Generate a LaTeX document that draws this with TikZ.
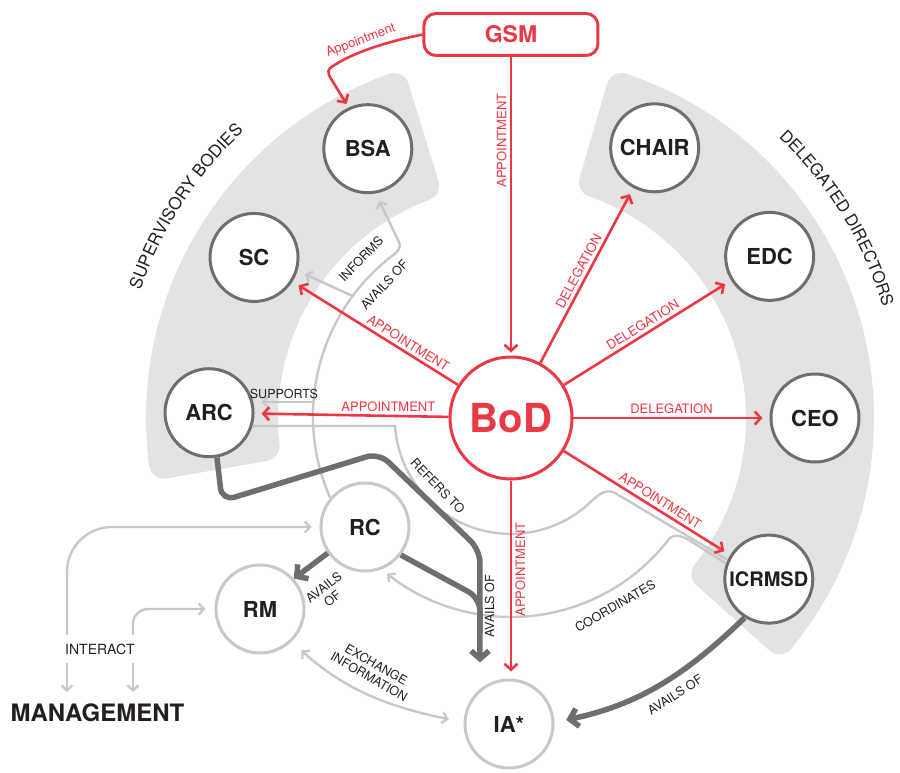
\documentclass[tikz,border=0pt]{standalone}
\usepackage{fontspec}
\setmainfont{TeX Gyre Heros}
\usepackage{tikz}
\usetikzlibrary{positioning, arrows.meta, decorations.text}

\definecolor{bodred}{RGB}{236,56,68}
\definecolor{ringgray}{RGB}{109,110,113}
\definecolor{bandgray}{RGB}{227,227,227}
\definecolor{softgray}{RGB}{200,200,200}
\definecolor{inkgray}{RGB}{35,31,32}

\tikzset{
    member/.style={circle, draw=ringgray, line width=3pt, fill=white, minimum size=88pt, inner sep=0pt, text=inkgray, font=\fontsize{22}{22}\selectfont\bfseries},
    softmember/.style={member, draw=softgray},
    redarrow/.style={bodred, line width=2.6pt, -{Straight Barb[length=6pt,width=13pt]}, shorten >=7pt},
    redlabel/.style={text=bodred, font=\fontsize{13}{14}\selectfont, inner sep=3pt},
    greylabel/.style={text=inkgray, font=\fontsize{12.5}{14}\selectfont, inner sep=2pt},
    softline/.style={softgray, line width=2.4pt},
    softarrow/.style={softline, -{Straight Barb[length=5pt,width=11pt]}},
    availsline/.style={ringgray, line width=5.5pt},
    availsarrow/.style={availsline, -{Straight Barb[length=8pt,width=18pt]}}
}

\begin{document}
\begin{tikzpicture}[x=1pt, y=1pt]
                \useasboundingbox (-511,-354) rectangle (389,418);

                \filldraw[bandgray, line width=30pt, line join=round] (109.5:350) arc[start angle=109.5, end angle=187.5, radius=350] -- (186.5:248) arc[start angle=186.5, end angle=110.5, radius=248] -- cycle;
                \filldraw[bandgray, line width=30pt, line join=round] (71.5:348) arc[start angle=71.5, end angle=-39.5, radius=348] -- (-38.6:250) arc[start angle=-38.6, end angle=70.6, radius=250] -- cycle;

                \path[decorate, decoration={text along path, text align=center, text color=inkgray, text={|\fontsize{17}{17}\selectfont|SUPERVISORY BODIES}}] (172:392) arc[start angle=172, end angle=122, radius=392];
                \path[decorate, decoration={text along path, text align=center, text color=inkgray, text={|\fontsize{16.5}{17}\selectfont|DELEGATED DIRECTORS}}] (61:388) arc[start angle=61, end angle=2, radius=388];

                \node [circle, draw=bodred, line width=3pt, fill=white, minimum size=122pt, text=bodred, font=\fontsize{40}{40}\selectfont\bfseries] (BoD) at (0,0) {BoD};
                \node [draw=bodred, line width=3pt, rounded corners=12pt, fill=white, minimum width=174pt, minimum height=42pt, text=bodred, font=\fontsize{23}{23}\selectfont\bfseries] (GSM) at (0,383.5) {GSM};

                \node [member] (BSA) at (118:305) {BSA};
                \node [member] (SC) at (148:303) {SC};
                \node [member] (ARC) at (179:302) {ARC};
                \node [member] (CHAIR) at (62:306) {CHAIR};
                \node [member] (EDC) at (32:305) {EDC};
                \node [member] (CEO) at (0:304) {CEO};
                \node [member, font=\fontsize{20}{20}\selectfont\bfseries] (ICRMSD) at (-32:304) {ICRMSD};

                \node [softmember] (RC) at (-146,-109) {RC};
                \node [softmember] (RM) at (-251,-191) {RM};
                \node [softmember] (IA) at (-2,-306) {IA*};

                \node [text=inkgray, font=\fontsize{24}{24}\selectfont\bfseries] (mgmt) at (-413.5,-294.5) {MANAGEMENT};
                \node [greylabel, font=\fontsize{14}{14}\selectfont, inner ysep=8pt] (interact) at (-411,-231) {INTERACT};

                % light connectors
                \draw[softarrow, shorten >=8pt] (RC.140) arc[start angle=203.8, end angle=127, radius=202] to[out=37, in=-60] (-112,176) -- (BSA.-80);
                \coordinate (informsfork) at (-158.5,122);
                \coordinate (supportsfork) at (-197.6,16);
                \draw[softarrow, shorten >=8pt] (informsfork) -- (SC.-17);
                \draw[softarrow, shorten >=7pt] (supportsfork) -- (supportsfork -| ARC.east) node[greylabel, midway, above] {SUPPORTS};
                \node [greylabel, rotate=46] (informs) at (-150,159) {INFORMS};
                \node [greylabel, rotate=47] (availsbsa) at (133.5:184) {AVAILS OF};

                \draw[softline] (ARC.-17) -- (-116,-8) arc[start angle=184, end angle=314, radius=116] to[out=44, in=152] (104,-75) -- (ICRMSD.155);
                \node [greylabel, rotate=-46] (refers) at (223:100) {REFERS TO};

                \draw[softarrow] (ICRMSD.160) -- (178,-122) to[out=152, in=50] (-37.5:199) arc[start angle=-37.5, end angle=-128.5, radius=199];
                \node [greylabel, rotate=30] (coord) at (-61:215) {COORDINATES};

                \draw[softline, {Straight Barb[length=5pt,width=11pt]}-{Straight Barb[length=5pt,width=11pt]}, shorten <=13pt, shorten >=15pt] (RM.-46) to[out=-42, in=168] (IA.178);
                \node [greylabel, rotate=-30, align=center] (exchange) at (241.3:288) {EXCHANGE\\INFORMATION};

                \coordinate (rcup) at ([xshift=-33pt]interact.north);
                \coordinate (rcdown) at ([xshift=-33pt]interact.south);
                \coordinate (rmup) at ([xshift=33pt]interact.north);
                \coordinate (rmdown) at ([xshift=33pt]interact.south);
                \draw[softarrow, rounded corners=45pt, shorten >=8pt] (rcup) |- (RC);
                \draw[softarrow, rounded corners=15pt, shorten >=9pt] (rmup) |- (RM);
                \draw[softarrow, shorten >=8pt] (rcdown) -- (rcdown |- mgmt.north);
                \draw[softarrow, shorten >=8pt] (rmdown) -- (rmdown |- mgmt.north);

                % dark connectors
                \draw[availsarrow, rounded corners=13pt] (ARC.-80) -- (-289,-83) -- (-132,-35) -- (-31,-132) -- ([xshift=-29pt, yshift=16pt]IA.north) node[greylabel, pos=0.5, rotate=90, anchor=north] {AVAILS OF};
                \draw[availsline, rounded corners=13pt] (RC.-38) -- (-31,-180) -- (-31,-215);
                \draw[availsarrow] (RC.215) -- (RM.42);
                \node [greylabel, rotate=38, align=center] (availsrm) at (-183,-175) {AVAILS\\OF};
                \draw[availsarrow, shorten >=12pt] (ICRMSD.238) to[out=224, in=12] (IA.2);
                \node [greylabel, rotate=33] (availsia) at (164,-277) {AVAILS OF};

                % red connectors
                \draw[redarrow, shorten >=3pt] (GSM) -- (BoD) node[redlabel, pos=0.28, rotate=90, anchor=south] {APPOINTMENT};
                \draw[redarrow, shorten >=4pt] (GSM.west) .. controls (-130,375) and (-160,364) .. (-178,352) node[redlabel, pos=0.55, sloped, above] {Appointment} .. controls (-184,349) and (-183,345) .. (-181,341) -- (BSA.115);
                \draw[redarrow] (BoD) -- (CHAIR) node[redlabel, pos=0.5, sloped, above] {DELEGATION};
                \draw[redarrow] (BoD) -- (EDC) node[redlabel, pos=0.5, sloped, above] {DELEGATION};
                \draw[redarrow] (BoD) -- (CEO) node[redlabel, pos=0.5, above] {DELEGATION};
                \draw[redarrow] (BoD) -- (ICRMSD) node[redlabel, pos=0.55, sloped, above] {APPOINTMENT};
                \draw[redarrow] (BoD) -- (SC) node[redlabel, pos=0.33, sloped, above] {APPOINTMENT};
                \draw[redarrow] (BoD) -- (ARC) node[redlabel, pos=0.31, above] {APPOINTMENT};
                \draw[redarrow] (BoD) -- (BoD |- IA.north) node[redlabel, pos=0.45, rotate=90, anchor=north] {APPOINTMENT};
            \end{tikzpicture}
\end{document}
